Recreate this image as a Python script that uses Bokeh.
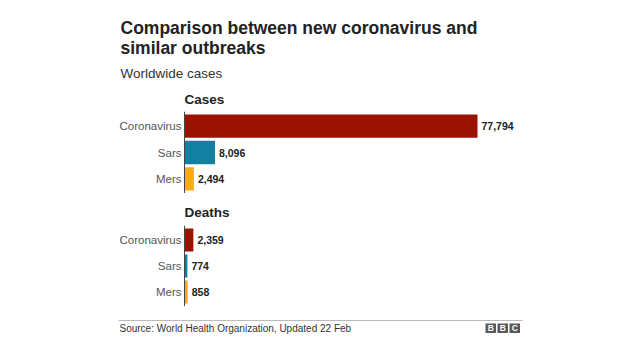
from bokeh.plotting import figure
from bokeh.models import FactorRange, Range1d, Label, BoxAnnotation, Span
from bokeh.layouts import column
from bokeh.core.properties import value
from bokeh.embed import file_html
from bokeh.resources import INLINE

# ---- data ----
diseases = ["Coronavirus", "Sars", "Mers"]
cases = [77794, 8096, 2494]
deaths = [2359, 774, 858]
bar_colors = ["#9a1300", "#1380A1", "#FAAB18"]

title_lines = ["Comparison between new coronavirus and", "similar outbreaks"]
subtitle = "Worldwide cases"
section_titles = ["Cases", "Deaths"]
source = "Source: World Health Organization, Updated 22 Feb"

FONT = "Liberation Sans"
W = 640
AXIS_X = 184            # pixel position of the value axis (zero)
PX_PER_UNIT = 293 / max(cases)


def base(height, x_range, y_range):
    p = figure(width=W, height=height, title=None, output_backend="svg",
               toolbar_location=None, x_axis_location=None, y_axis_location=None,
               x_range=x_range, y_range=y_range,
               min_border=0, min_border_left=0, min_border_right=0,
               min_border_top=0, min_border_bottom=0)
    p.outline_line_color = None
    p.xgrid.visible = False
    p.ygrid.visible = False
    p.background_fill_color = "white"
    p.border_fill_color = "white"
    return p


def strip(height):
    return base(height, Range1d(0, W), Range1d(0, height))


def make_panel(vals, height):
    p = base(height,
             Range1d(-AXIS_X / PX_PER_UNIT, (W - AXIS_X) / PX_PER_UNIT),
             FactorRange(factors=list(reversed(diseases)),
                         range_padding=0.06, range_padding_units="absolute"))
    p.hbar(y=diseases, right=vals, left=0, height=0.885, color=bar_colors,
           line_color=None)
    p.add_layout(Span(location=0, dimension="height", line_color="#444444",
                      line_width=1))
    p.text(x=[0] * len(diseases), y=diseases, text=diseases, x_offset=-3,
           text_baseline="middle", text_align="right", text_font=value(FONT),
           text_font_size="11.5px", text_color="#555555")
    p.text(x=vals, y=diseases, text=[f"{v:,}" for v in vals], x_offset=4,
           text_baseline="middle", text_align="left", text_font=value(FONT),
           text_font_style="bold", text_font_size="10.5px", text_color="#222222")
    return p


def lab(p, text, x, y, size, bold=False, color="#222222", align="left"):
    p.add_layout(Label(x=x, y=y, x_units="screen", y_units="screen", text=text,
                       text_font=FONT, text_font_size=size,
                       text_font_style="bold" if bold else "normal",
                       text_color=color, text_align=align,
                       text_baseline="middle"))


def box(p, l, r, t, b, color):
    p.add_layout(BoxAnnotation(left=l, right=r, top=t, bottom=b,
                               left_units="screen", right_units="screen",
                               top_units="screen", bottom_units="screen",
                               fill_color=color, fill_alpha=1, line_color=None))


# header (title, subtitle, "Cases")
head = strip(111)
lab(head, title_lines[0], 120, 83.5, "17.5px", bold=True)
lab(head, title_lines[1], 120, 63.3, "17.5px", bold=True)
lab(head, subtitle, 120, 38.2, "13.5px", color="#333333")
lab(head, section_titles[0], AXIS_X, 12.3, "13.5px", bold=True)

p1 = make_panel(cases, 82)

mid = strip(32)
lab(mid, section_titles[1], AXIS_X, 13, "13.5px", bold=True)

p2 = make_panel(deaths, 81)

foot = strip(54)
box(foot, 118, 522, 40.5, 39.4, "#bbbbbb")
lab(foot, source, 119, 32.3, "10px", color="#333333")
for i, letter in enumerate(["B", "B", "C"]):
    l = 485 + i * 12
    box(foot, l, l + 10.5, 37, 27.5, "#5a5a5a")
    lab(foot, letter, l + 5.25, 32.3, "8.5px", bold=True, color="white", align="center")

layout = column(head, p1, mid, p2, foot, spacing=0)
open("out.html", "w").write(file_html(layout, INLINE))
